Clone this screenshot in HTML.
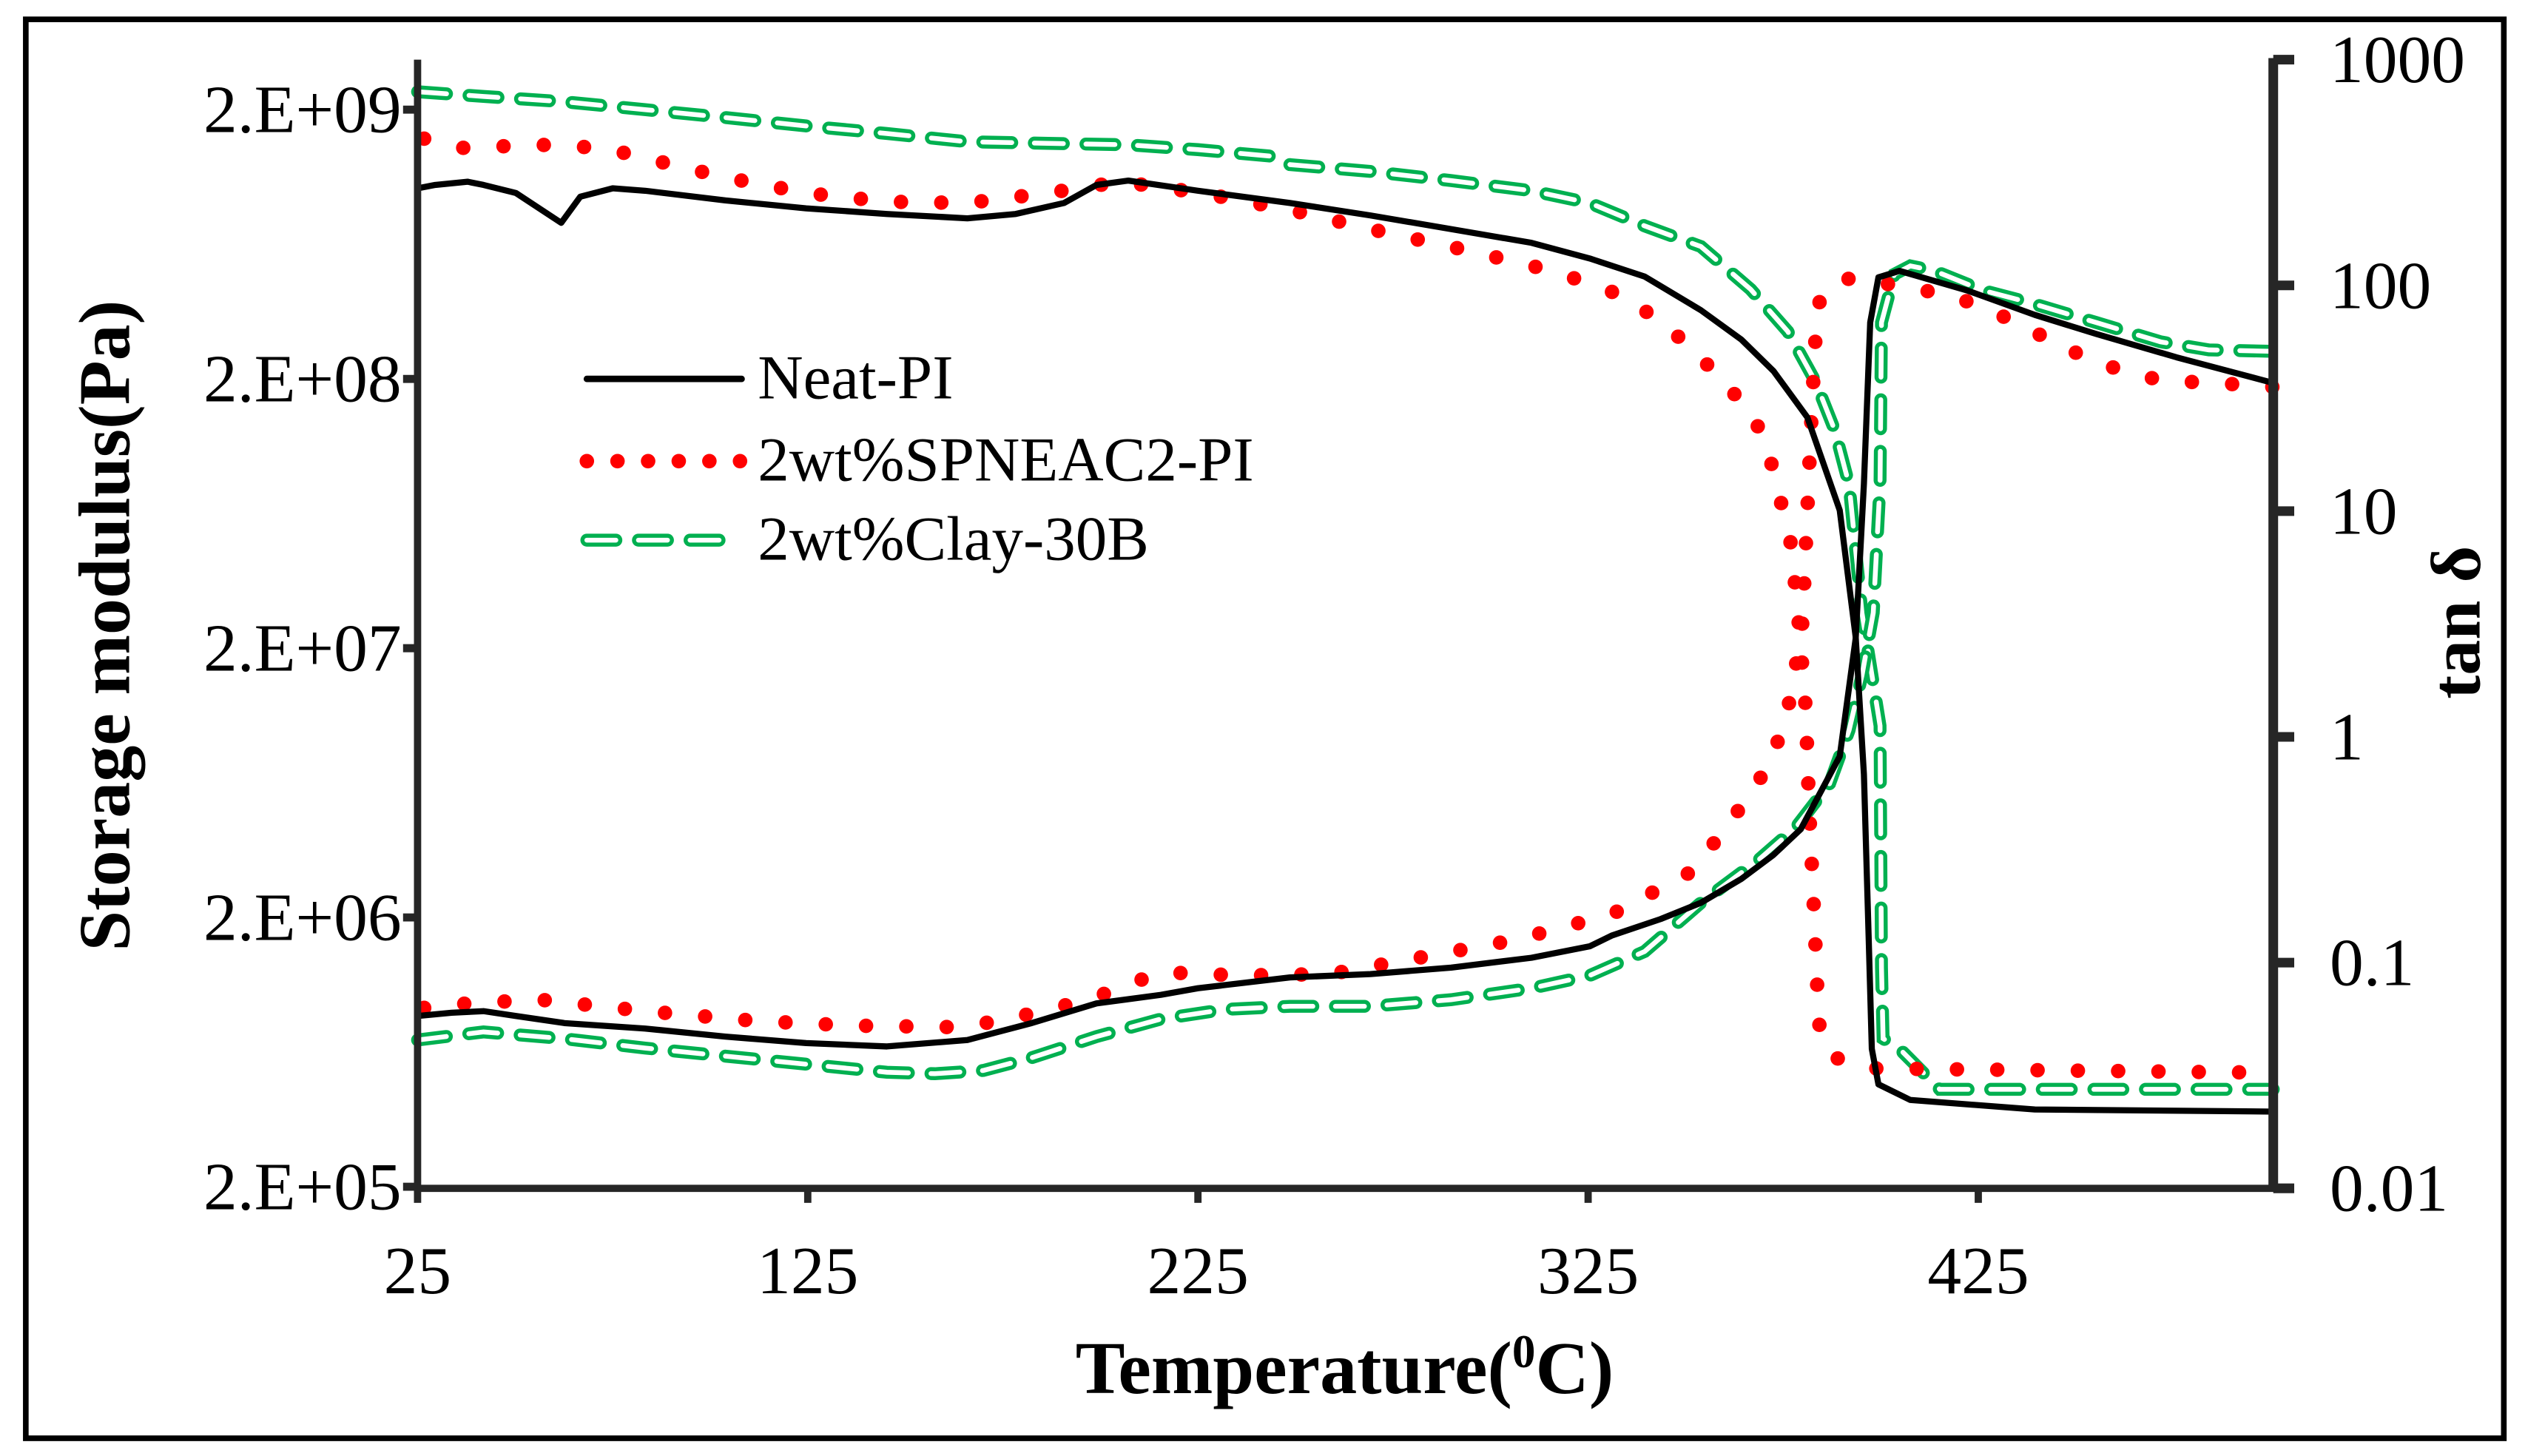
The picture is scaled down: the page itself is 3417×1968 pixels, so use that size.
<!DOCTYPE html>
<html><head><meta charset="utf-8"><style>
html,body{margin:0;padding:0;background:#fff}
svg{display:block}
text{font-family:"Liberation Serif",serif;fill:#000}
</style></head><body>
<svg id="chart" width="3417" height="1968" viewBox="0 0 1568 903" preserveAspectRatio="none" xmlns="http://www.w3.org/2000/svg">
<rect x="16" y="12" width="1537" height="880" fill="#fff" stroke="#000" stroke-width="3.5"/>
<g id="series"></g>
<g id="axes"></g>
<g id="legend">
 <line x1="364" y1="235" x2="460" y2="235" stroke="#000" stroke-width="4" stroke-linecap="round"/>
 <text x="470" y="247" font-size="39">Neat-PI</text>
 <line x1="364" y1="286" x2="460" y2="286" stroke="#ff0000" stroke-width="9" stroke-dasharray="0 19" stroke-linecap="round"/>
 <text x="470" y="298" font-size="39">2wt%SPNEAC2-PI</text>
 <line x1="364" y1="335" x2="460" y2="335" stroke="#00b050" stroke-width="8" stroke-dasharray="18 14" stroke-linecap="round"/>
 <line x1="364" y1="335" x2="460" y2="335" stroke="#fff" stroke-width="3" stroke-dasharray="18 14" stroke-linecap="round"/>
 <text x="470" y="347" font-size="39">2wt%Clay-30B</text>
</g>
<text x="834" y="864" font-size="46" font-weight="bold" text-anchor="middle">Temperature(<tspan font-size="29" dy="-16">0</tspan><tspan dy="16">C)</tspan></text>
<text transform="translate(80,388) rotate(-90)" font-size="45" font-weight="bold" text-anchor="middle">Storage modulus(Pa)</text>
<text transform="translate(1538,386) rotate(-90)" font-size="44" font-weight="bold" text-anchor="middle">tan δ</text>
</svg>
<script>
const xTicks=[25,125,225,325,425];
const yTicks=[2e5,2e6,2e7,2e8,2e9];
const yTickLabels=["2.E+05","2.E+06","2.E+07","2.E+08","2.E+09"];
const y2Ticks=[0.01,0.1,1,10,100,1000];
const y2TickLabels=["0.01","0.1","1","10","100","1000"];

const neatModT=[25,29.5,37.8,41.9,50.2,61.8,66.7,75,83.3,103.9,124.6,145.3,165.9,178.3,190.7,199,207.2,225,248.6,269.2,289.9,310.5,325.4,339.5,353.9,364.3,372.5,381.2,389.5,393.6,395.7,396.9,397.7,399.4,407.6,439.5,500.6];
const neatModV=[1.02e9,1.05e9,1.08e9,1.05e9,9.8e8,7.6e8,9.5e8,1.02e9,1.0e9,9.2e8,8.6e8,8.2e8,7.9e8,8.2e8,9.0e8,1.05e9,1.09e9,1.0e9,9.0e8,8.1e8,7.2e8,6.4e8,5.6e8,4.8e8,3.6e8,2.8e8,2.14e8,1.44e8,6.5e7,2.2e7,6.8e6,1.72e6,6.5e5,4.8e5,4.2e5,3.87e5,3.8e5];
const neatTanT=[25,33.7,41.9,50.2,62.6,83.3,103.9,124.6,145.3,165.9,182.4,199,215.5,225,248.6,269.2,289.9,310.5,325.4,331.2,343.6,353.9,364.3,372.5,379.5,389.5,393.6,395.7,397.3,399.4,404.8,422.1,439.5,455.2,475.8,500.6];
const neatTanV=[0.058,0.060,0.061,0.058,0.054,0.051,0.047,0.044,0.0425,0.0454,0.054,0.066,0.072,0.077,0.086,0.089,0.095,0.105,0.118,0.132,0.156,0.184,0.235,0.30,0.39,0.82,2.73,13.2,68.5,108.6,116,95,74,61,48,37];

const redModT=[26.7,35.7,56.4,72.9,83.3,103.9,124.6,145.3,165.9,186.6,205.2,225.8,248.6,269.2,294,316.7,335.3,351.9,360.5,365.9,370.5,372.9,377.1,379.1,380.8,381.6,382.9,384.1,387.4,396.1,500.6];
const redModV=[1.56e9,1.44e9,1.48e9,1.44e9,1.32e9,1.12e9,9.8e8,9.1e8,9.0e8,9.8e8,1.08e9,9.8e8,8.5e8,7.2e8,6.0e8,5.0e8,4.0e8,2.6e8,1.87e8,1.58e8,1.17e8,8.6e7,4.8e7,2.36e7,1.18e7,5.3e6,2.08e6,8.1e5,6.1e5,5.5e5,5.3e5];
const redTanT=[26.7,37.8,56.4,83.3,112.2,137,161.8,174.2,197,215.5,236.2,258.9,281.6,306.4,331.2,351.9,363.4,372.1,377.1,380,381.2,382,382.9,383.7,387,393.2,405.6,418,430.4,442.8,455.2,471.7,488.2,500.6];
const redTanV=[0.063,0.066,0.0685,0.061,0.055,0.0526,0.0518,0.055,0.0685,0.0906,0.0877,0.089,0.105,0.126,0.164,0.255,0.47,0.78,1.53,3.27,10,21.3,44.7,80.7,101.6,108.6,98.4,90.6,74.3,58,45.4,37.9,36.7,35.5];

const clayModT=[25,41.9,62.6,83.3,103.9,124.6,145.3,165.9,186.6,207.2,225,244.4,248.6,269.2,289.9,310.5,325.4,339.5,353.9,366.7,376.2,383.3,388.2,391.9,395.2,399.8,400.2,400.6,404.8,415.1,500.6];
const clayModV=[2.33e9,2.24e9,2.14e9,2.0e9,1.87e9,1.74e9,1.63e9,1.52e9,1.5e9,1.48e9,1.42e9,1.34e9,1.25e9,1.18e9,1.09e9,1.0e9,9.0e8,7.4e8,6.2e8,4.3e8,3.0e8,1.95e8,1.29e8,8.1e7,2.7e7,1.03e7,1.3e6,7.1e5,6.5e5,4.6e5,4.6e5];
const clayTanT=[25,41.9,62.6,83.3,103.9,124.6,145.3,157.6,170,182.4,199,215.5,232,248.6,269.2,289.9,310.5,325.4,339.5,353.9,368.8,378.3,386.9,391.9,395.2,398.1,399.8,400.2,403.5,407.6,413.8,426.2,438.6,455.2,471.7,484.1,500.6];
const clayTanV=[0.0454,0.0493,0.046,0.0418,0.0385,0.0355,0.0327,0.0322,0.0333,0.0379,0.047,0.0562,0.0621,0.064,0.064,0.0685,0.077,0.0877,0.112,0.184,0.286,0.398,0.621,1.07,1.87,3.55,13.2,68.5,112,122,116,95,83.4,68.5,56.2,51.8,51];

const NS="http://www.w3.org/2000/svg";
const X0=259,X1=1410,T0=25,T1=500.6;
function xs(t){return X0+(t-T0)*(X1-X0)/(T1-T0);}
function ys(v){return 68+(Math.log10(2e9)-Math.log10(v))*167;}
function y2s(v){return 457-Math.log10(v)*140;}
function mk(tag,attrs,parent){const e=document.createElementNS(NS,tag);for(const k in attrs)e.setAttribute(k,attrs[k]);parent.appendChild(e);return e;}
function pathD(T,V,f){return T.map((t,i)=>(i?"L":"M")+xs(t).toFixed(1)+","+f(V[i]).toFixed(1)).join(" ");}

const S=document.getElementById("series");
function drawSeries(T,V,f,kind,name){
  const d=pathD(T,V,f);
  if(kind==="solid"){
    const p=mk("path",{d:d,fill:"none",stroke:"#000","stroke-width":"3.8","stroke-linejoin":"round"},S);
    
    
  }else if(kind==="dot"){
    const p=mk("path",{d:d,fill:"none",stroke:"#ff0000","stroke-width":"9","stroke-dasharray":"0 25","stroke-linecap":"round"},S);
    
    
  }else{
    const p=mk("path",{d:d,fill:"none",stroke:"#00b050","stroke-width":"8","stroke-dasharray":"18 14","stroke-linecap":"round"},S);
    
    
    const q=mk("path",{d:d,fill:"none",stroke:"#fff","stroke-width":"3","stroke-dasharray":"18 14","stroke-linecap":"round"},S);
    
    
  }
}
drawSeries(clayModT,clayModV,ys,"dash","clay-storage-modulus-line");
drawSeries(clayTanT,clayTanV,y2s,"dash","clay-tan-delta-line");
drawSeries(redModT,redModV,ys,"dot","spneac2-storage-modulus-line");
drawSeries(redTanT,redTanV,y2s,"dot","spneac2-tan-delta-line");
drawSeries(neatModT,neatModV,ys,"solid","neat-storage-modulus-line");
drawSeries(neatTanT,neatTanV,y2s,"solid","neat-tan-delta-line");

const A=document.getElementById("axes");
const la=mk("line",{x1:X0,y1:37,x2:X0,y2:739,stroke:"#262626","stroke-width":"4.5"},A);


const ra=mk("line",{x1:X1,y1:36,x2:X1,y2:739,stroke:"#262626","stroke-width":"6"},A);


const ba=mk("line",{x1:X0-2,y1:737,x2:X1+3,y2:737,stroke:"#262626","stroke-width":"4.5"},A);


yTicks.forEach((v,i)=>{
  const y=ys(v);
  const t=mk("line",{x1:X0-9,y1:y,x2:X0,y2:y,stroke:"#262626","stroke-width":"5"},A);
  
  
  const l=mk("text",{x:249,y:y+14,"font-size":"42","text-anchor":"end"},A);
  l.textContent=yTickLabels[i];
  
  
});
y2Ticks.forEach((v,i)=>{
  const y=y2s(v);
  const t=mk("line",{x1:X1,y1:y,x2:X1+13,y2:y,stroke:"#262626","stroke-width":"6"},A);
  
  
  const l=mk("text",{x:1445,y:y+14,"font-size":"42"},A);
  l.textContent=y2TickLabels[i];
  
  
});
xTicks.forEach(v=>{
  const x=xs(v);
  const t=mk("line",{x1:x,y1:737,x2:x,y2:746,stroke:"#262626","stroke-width":"4.5"},A);
  
  
  const l=mk("text",{x:x,y:802,"font-size":"42","text-anchor":"middle"},A);
  l.textContent=String(v);
  
  
});
</script>
</body></html>
